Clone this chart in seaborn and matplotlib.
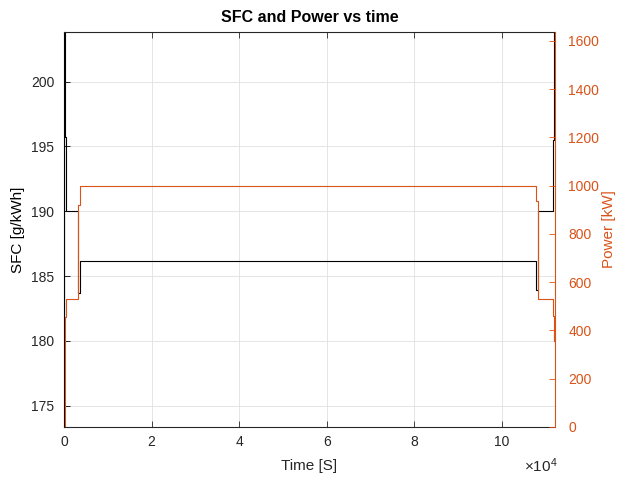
import matplotlib
matplotlib.use("Agg")
import matplotlib.pyplot as plt
import pandas as pd
import seaborn as sns

# Step-wise traces: each value holds until the next change time [s]
power_time = [0, 150, 550, 3100, 3550, 107800, 108250, 111700, 112000, 112130]
power_kw = [0, 455, 530, 920, 1000, 935, 531, 460, 356, 356]

sfc_time = [0, 25, 50, 180, 570, 3100, 3550, 107800, 108250, 111700, 112000, 112130]
sfc_gkwh = [178.6, 181.1, 230.0, 195.7, 190.0, 183.7, 186.2, 183.9, 190.0, 195.5, 230.0, 230.0]

x_ticks = [0, 20000, 40000, 60000, 80000, 100000]
x_tick_labels = ["0", "2", "4", "6", "8", "10"]
sfc_ticks = [175, 180, 185, 190, 195, 200]
power_ticks = [0, 200, 400, 600, 800, 1000, 1200, 1400, 1600]

ORANGE = "#D95319"
DARK = "#262626"

sns.set_theme(style="white")
plt.rcParams["font.family"] = ["Liberation Sans", "DejaVu Sans"]
plt.rcParams["mathtext.fontset"] = "custom"
plt.rcParams["mathtext.rm"] = "Liberation Sans"
plt.rcParams["mathtext.it"] = "Liberation Sans:italic"

sfc_df = pd.DataFrame({"time": sfc_time, "sfc": sfc_gkwh})
power_df = pd.DataFrame({"time": power_time, "power": power_kw})

fig = plt.figure(figsize=(6.2, 4.82), dpi=100)
ax = fig.add_axes([64 / 620, 1 - 427 / 482, (555 - 64) / 620, (427 - 32) / 482])
ax2 = ax.twinx()

sns.lineplot(data=sfc_df, x="time", y="sfc", ax=ax, color="black",
             drawstyle="steps-post", estimator=None, sort=False,
             linewidth=0.8, legend=False)
sns.lineplot(data=power_df, x="time", y="power", ax=ax2, color=ORANGE,
             drawstyle="steps-post", estimator=None, sort=False,
             linewidth=0.8, legend=False)

ax.set_xlim(0, 112130)
ax.set_ylim(173.36, 203.83)
ax2.set_ylim(0, 1637)

ax.set_xticks(x_ticks)
ax.set_xticklabels(x_tick_labels)
ax.set_yticks(sfc_ticks)
ax2.set_yticks(power_ticks)

ax.grid(True, color="#e0e0e0", linewidth=0.6)
ax.set_axisbelow(True)

for side in ["bottom", "top"]:
    ax.spines[side].set_color(DARK)
    ax.spines[side].set_linewidth(0.8)
ax.spines["left"].set_color("black")
ax.spines["left"].set_linewidth(0.8)
ax.spines["right"].set_visible(False)
for side in ["bottom", "top", "left"]:
    ax2.spines[side].set_visible(False)
ax2.spines["right"].set_color(ORANGE)
ax2.spines["right"].set_linewidth(0.8)

ax.tick_params(axis="x", direction="in", top=True, bottom=True, length=4.5,
               width=0.6, colors=DARK, labelsize=10, pad=6)
ax.tick_params(axis="y", direction="in", left=True, right=False, length=4.5,
               width=0.6, colors="black", labelcolor=DARK, labelsize=10, pad=7)
ax2.tick_params(axis="y", direction="in", right=True, length=4.5, width=0.6,
                colors=ORANGE, labelsize=10, pad=9.5)

ax.set_xlabel("Time [S]", fontsize=11, color=DARK, va="center")
ax.xaxis.set_label_coords(0.5, -0.0987)
ax.set_ylabel("SFC [g/kWh]", fontsize=11, color="black", va="center")
ax.yaxis.set_label_coords(-0.0935, 0.5)
ax2.set_ylabel("Power [kW]", fontsize=11, color=ORANGE, va="center")
ax2.yaxis.set_label_coords(1.11, 0.5)

ax.set_title("SFC and Power vs time", fontsize=11.5, fontweight="bold",
             color="black", y=1 + 14 / 395, va="center", pad=0)

ax.text(1.005, -0.0987, r"×$\mathregular{10^{4}}$", transform=ax.transAxes,
        ha="right", va="center", fontsize=11, color=DARK)

fig.savefig("out.png", dpi=100)
